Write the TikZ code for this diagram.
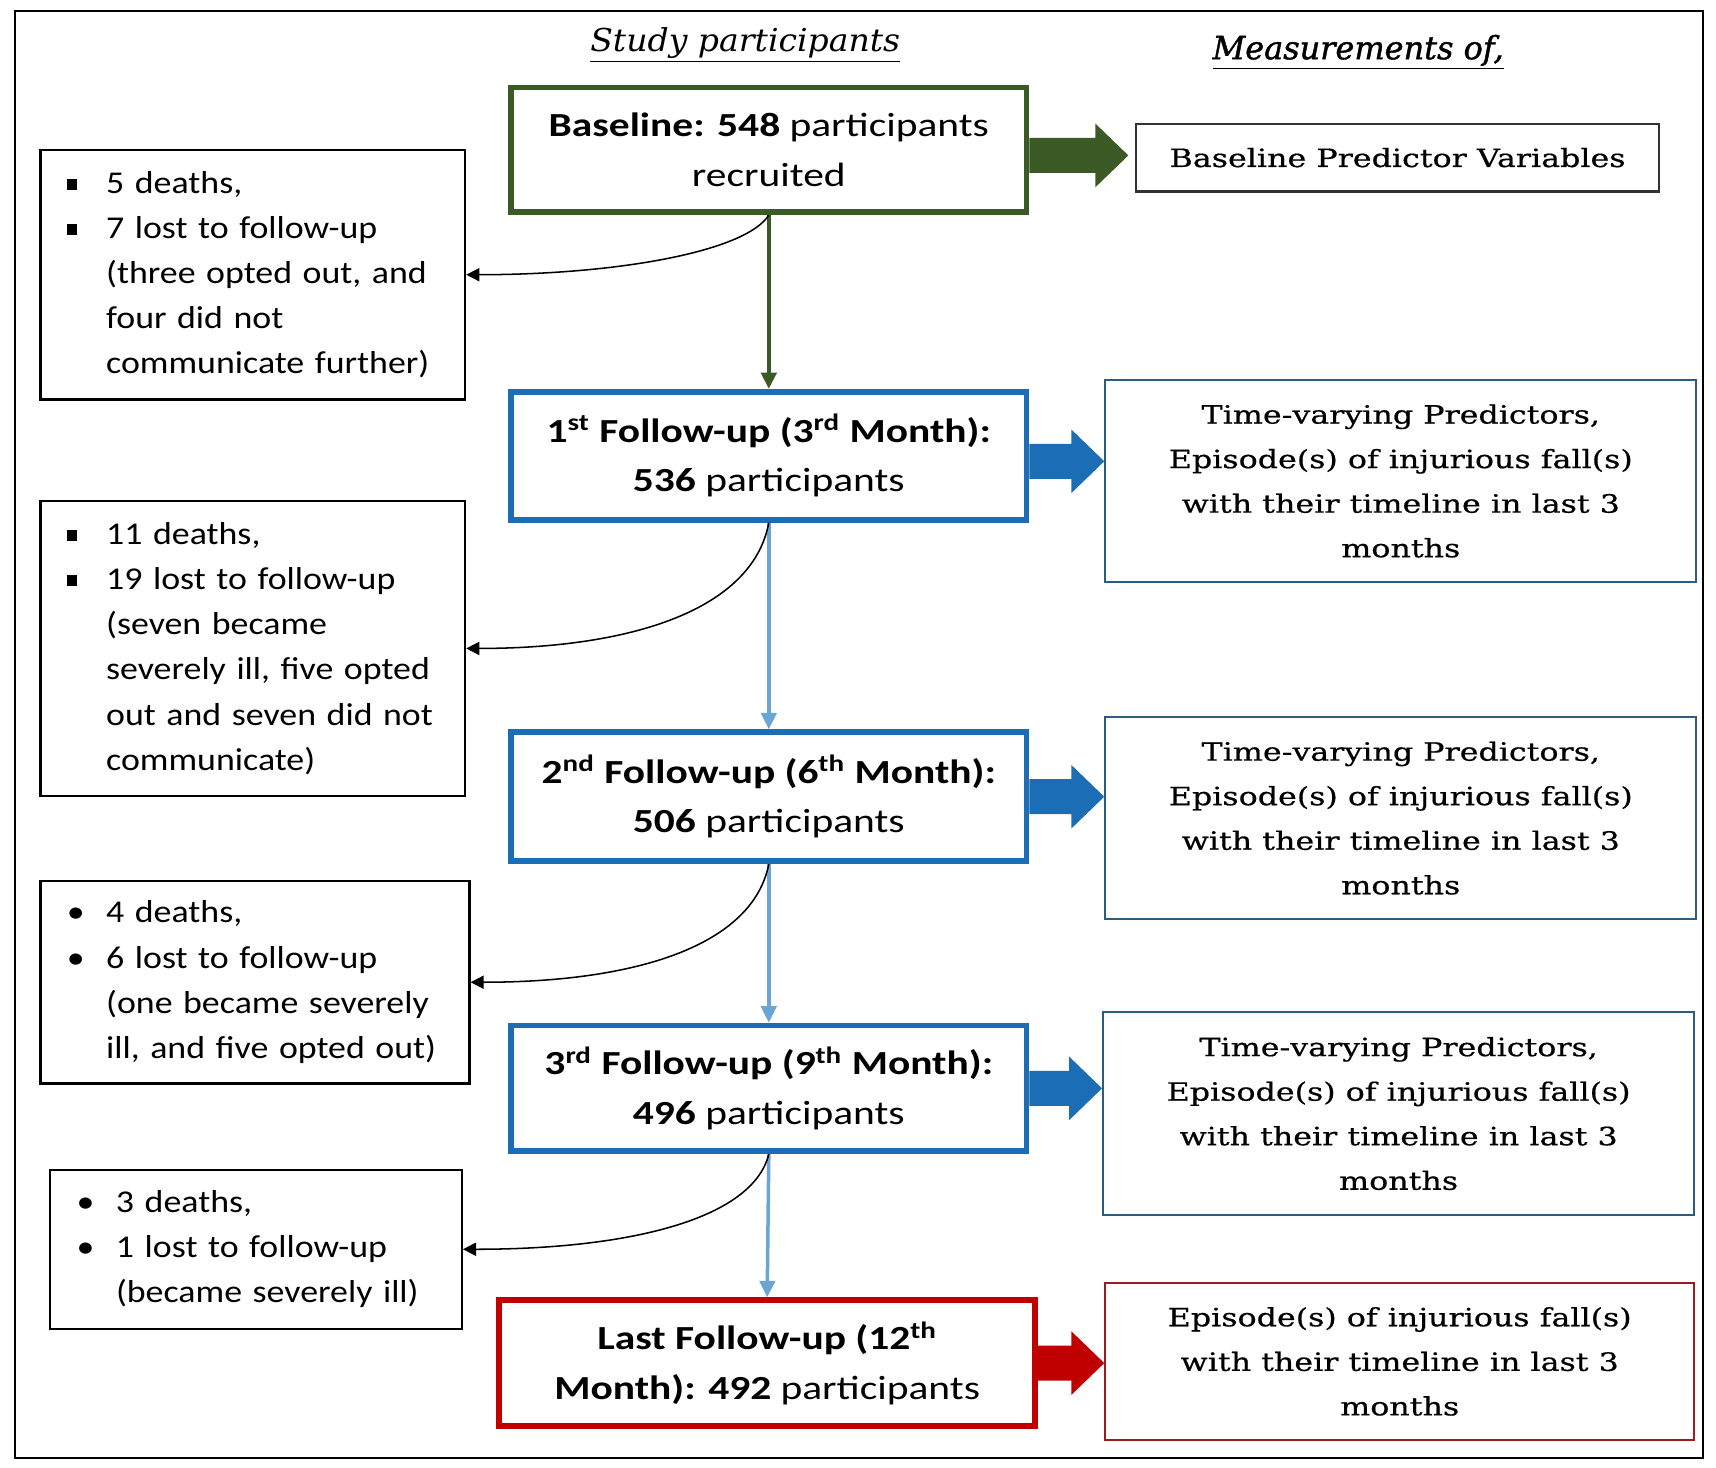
\documentclass[tikz,border=0pt]{standalone}
\usepackage{fontspec}
\setmainfont{Carlito}
\newfontfamily\midfont[FakeStretch=1.23]{Carlito}
\newfontfamily\leftfont[FakeStretch=1.13]{Carlito}
\newfontfamily\serifcam[FakeStretch=1.26,FakeBold=0.6]{DejaVu Serif}
\newfontfamily\ttlfont[FakeStretch=1.05]{DejaVu Serif}
\newfontfamily\ttlfontb[FakeStretch=1.0,FakeBold=1.3]{DejaVu Serif}
\usetikzlibrary{arrows.meta,calc}
\definecolor{dgreen}{HTML}{3B5A26}
\definecolor{mblue}{HTML}{1B6DB5}
\definecolor{lblue}{HTML}{6AA5D6}
\definecolor{mred}{HTML}{C00000}
\definecolor{bborder}{HTML}{2A5D80}
\definecolor{rborder}{HTML}{9A1C1C}
\newcommand\sqb{\makebox[18pt][l]{\rule[1.5pt]{4.6pt}{5pt}}}
\newcommand\rdb{\makebox[18pt][l]{•}}
\newcommand\ind{\hspace*{18pt}}
\newcommand\blockarrow[3]{\fill[#1] let \p1=(#2), \p2=(#3) in
  (\x1,\y1-8pt) -- (\x2-15pt,\y1-8pt) -- (\x2-15pt,\y1-14.5pt) -- (\x2,\y1)
  -- (\x2-15pt,\y1+14.5pt) -- (\x2-15pt,\y1+8pt) -- (\x1,\y1+8pt) -- cycle;}
\begin{document}
\begin{tikzpicture}[x=0.5pt,y=-0.5pt,
  lbox/.style={draw=black, line width=1pt, inner xsep=12pt, inner ysep=0pt,
    align=left, font=\leftfont\fontsize{14.5}{20.65}\selectfont},
  mbox/.style={draw=#1, line width=2.6pt, inner sep=0pt, align=center,
    font=\midfont\fontsize{15.4}{22.7}\selectfont},
  rbox/.style={draw=#1, line width=1pt, inner sep=0pt, align=center,
    font=\serifcam\fontsize{11.5}{20.35}\selectfont},
  ttl/.style={inner sep=0pt},
  vline/.style={draw=#1, line width=2pt, -{Triangle[length=7.5pt,width=7pt]}},
  curv/.style={draw=black, line width=0.7pt, -{Triangle[length=6pt,width=6pt]}}
]
\useasboundingbox (0,0) rectangle (1568,1341);
\draw[line width=1pt] (14,10) rectangle (1556,1332);

% titles
\node[ttl, font=\ttlfont\itshape\fontsize{14.4}{17}\selectfont] (t1) at (681,41) {\underline{Study participants}};
\node[ttl, font=\ttlfontb\itshape\fontsize{14.6}{17}\selectfont] (t2) at (1241,48) {\underline{Measurements of,}};

% middle boxes
\node[mbox=dgreen, minimum width=235.5pt, minimum height=57pt] (b) at (702.5,137)
  {\textbf{Baseline: 548} participants\\recruited};
\node[mbox=mblue, minimum width=235.5pt, minimum height=58.5pt] (f1) at (702.5,416.5)
  {\textbf{1\textsuperscript{st} Follow-up (3\textsuperscript{rd} Month):}\\\textbf{536} participants};
\node[mbox=mblue, minimum width=235.5pt, minimum height=59pt] (f2) at (702.5,728)
  {\textbf{2\textsuperscript{nd} Follow-up (6\textsuperscript{th} Month):}\\\textbf{506} participants};
\node[mbox=mblue, minimum width=235.5pt, minimum height=57.5pt] (f3) at (702.5,994.5)
  {\textbf{3\textsuperscript{rd} Follow-up (9\textsuperscript{th} Month):}\\\textbf{496} participants};
\node[mbox=mred, minimum width=245pt, minimum height=57.5pt] (fl) at (701,1245.5)
  {\textbf{Last Follow-up (12\textsuperscript{th}}\\\textbf{Month): 492} participants};

% right boxes
\node[rbox=black!80, minimum width=239pt, minimum height=31pt] (m0) at (1277,144)
  {Baseline Predictor Variables};
\node[rbox=bborder, minimum width=270pt, minimum height=92.5pt] (m1) at (1280,439.5)
  {Time-varying Predictors,\\Episode(s) of injurious fall(s)\\with their timeline in last 3\\months};
\node[rbox=bborder, minimum width=270pt, minimum height=92.5pt] (m2) at (1280,747.5)
  {Time-varying Predictors,\\Episode(s) of injurious fall(s)\\with their timeline in last 3\\months};
\node[rbox=bborder, minimum width=270pt, minimum height=92.5pt] (m3) at (1278,1017.5)
  {Time-varying Predictors,\\Episode(s) of injurious fall(s)\\with their timeline in last 3\\months};
\node[rbox=rborder, minimum width=269pt, minimum height=72pt] (m4) at (1279,1244)
  {Episode(s) of injurious fall(s)\\with their timeline in last 3\\months};

% left boxes
\node[lbox, text width=170pt, minimum height=114pt] (l1) at (231,251)
  {\sqb5 deaths,\\\sqb7 lost to follow-up\\\ind(three opted out, and\\\ind four did not\\\ind communicate further)};
\node[lbox, text width=170pt, minimum height=134.5pt] (l2) at (231,592.5)
  {\sqb11 deaths,\\\sqb19 lost to follow-up\\\ind(seven became\\\ind severely ill, five opted\\\ind out and seven did not\\\ind communicate)};
\node[lbox, text width=172pt, minimum height=92.5pt] (l3) at (233,897.5)
  {\rdb4 deaths,\\\rdb6 lost to follow-up\\\ind(one became severely\\\ind ill, and five opted out)};
\node[lbox, text width=164pt, minimum height=72.5pt] (l4) at (234,1141.5)
  {\rdb3 deaths,\\\rdb1 lost to follow-up\\\ind(became severely ill)};

% block arrows
\blockarrow{dgreen}{$(b.east)+(0,-2.5pt)$}{$(m0.west)+(-3pt,0)$}
\blockarrow{mblue}{$(f1.east)+(0,-2.5pt)$}{m1.west}
\blockarrow{mblue}{f2.east}{m2.west}
\blockarrow{mblue}{f3.east}{m3.west}
\blockarrow{mred}{fl.east}{m4.west}

% vertical arrows
\draw[vline=dgreen] (b.south) -- (f1.north);
\draw[vline=lblue, line width=1.6pt] (f1.south) -- (f2.north);
\draw[vline=lblue, line width=1.6pt] (f2.south) -- (f3.north);
\draw[vline=lblue, line width=1.6pt] (f3.south) -- (fl.north);

% curved arrows
\draw[curv] (b.south) .. controls +(-22,34) and +(135,0) .. (l1.east);
\draw[curv] (f1.south) .. controls +(-15,80) and +(150,0) .. (l2.east);
\draw[curv] (f2.south) .. controls +(-15,75) and +(150,0) .. (l3.east);
\draw[curv] (f3.south) .. controls +(-15,60) and +(150,0) .. (l4.east);
\end{tikzpicture}
\end{document}
